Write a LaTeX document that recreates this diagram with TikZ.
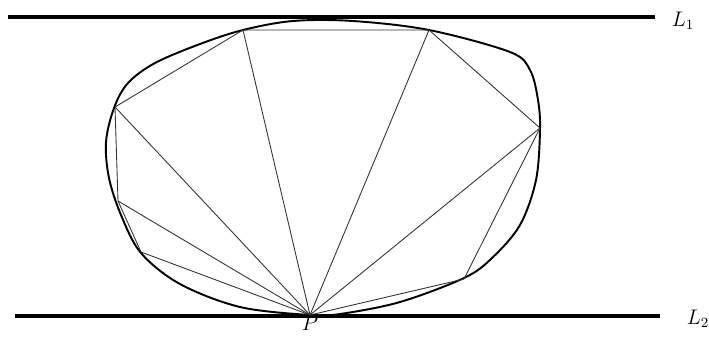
\documentclass[tikz,border=0pt]{standalone}
\begin{document}
\begin{tikzpicture}[x=0.02cm,y=-0.02cm]
\tikzset{support/.style={line width=2.2pt},
  outline/.style={line width=1.1pt},
  chord/.style={line width=0.5pt,black!80}}
\useasboundingbox (0,0) rectangle (709,336);
\draw[support] (8,17) -- (655,17);
\draw[support] (15,316) -- (660,316);
\node (l1) at (683,21) {\large $L_1$};
\node (l2) at (698,319) {\large $L_2$};
\coordinate (P) at (310,315);
\node[below,inner sep=0.5pt] (p) at (P) {\large $P$};
\coordinate (a1) at (243,30);
\coordinate (a2) at (429,30);
\coordinate (a3) at (540,128);
\coordinate (a4) at (464,279);
\coordinate (a5) at (115,107);
\coordinate (a6) at (118,201);
\coordinate (a7) at (141,252);
% boundary of the body
\draw[outline] plot[smooth cycle,tension=0.55] coordinates {
(310,315) (240,307) (180,284) (141,253) (121,215) (109,178) (106,142)
(114,108) (128,83) (155,63) (200,44) (243,30) (293,21) (353,21) (429,30)
(510,52) (530,70) (538,100) (540,130) (536,180) (520,225) (492,258)
(464,278) (400,302) (340,314)};
\draw[chord] (a5) -- (a1) -- (a2) -- (a3) -- (a4) -- (P);
\draw[chord] (a5) -- (a6) -- (a7) -- (P);
\foreach \v in {a1,a2,a3,a5,a6}
  \draw[chord] (P) -- (\v);
\end{tikzpicture}
\end{document}
